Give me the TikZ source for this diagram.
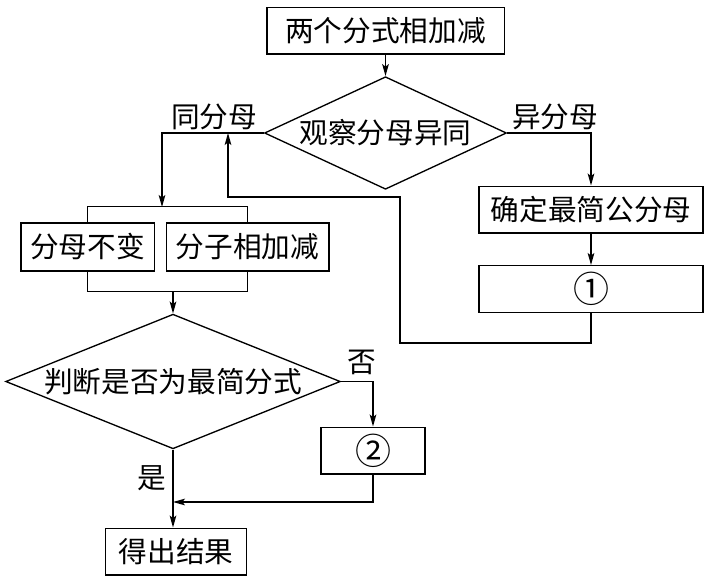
\documentclass[tikz,border=0pt]{standalone}
\usepackage{fontspec}
\newfontfamily\cjk{Noto Sans CJK SC}
\usetikzlibrary{shapes.geometric, arrows.meta}

\begin{document}
\begin{tikzpicture} [x = 0.75pt, y = -0.75pt, line width = 1pt,
    font = \cjk\fontsize{21.5}{25}\selectfont,
    >={Stealth[length = 9pt, width = 5pt, inset = 2pt]},
    box/.style = {draw, rectangle, inner sep = 0pt, minimum height = 35pt},
    dia/.style = {draw, diamond, inner sep = 0pt},
    lab/.style = {inner sep = 0pt},
    num/.style = {font = \cjk\fontsize{27}{27}\selectfont}]
\useasboundingbox (0,0) rectangle (709,578);
\node[box, minimum width = 178pt](sum) at (385.5,30.5){两个分式相加减};
\node[dia, shape aspect = 2, minimum width = 181.5pt, minimum height = 81pt](look) at (385.5,133){观察分母异同};
\node[box, minimum width = 168pt](lcd) at (591,209.5){确定最简公分母};
\node[box, num, minimum width = 168pt](one) at (591,289){①};
\node[box, minimum width = 100pt, minimum height = 36pt](keep) at (87.5,247){分母不变};
\node[box, minimum width = 122pt, minimum height = 36pt](add) at (247.5,247){分子相加减};
\node[dia, shape aspect = 2.45, minimum width = 251pt, minimum height = 101pt](check) at (173,381.5){判断是否为最简分式};
\node[box, num, minimum width = 78pt](two) at (373,450.5){②};
\node[box, minimum width = 106pt](res) at (176,551.5){得出结果};
\node[lab](same) at (214,117){同分母};
\node[lab](diff) at (555,117){异分母};
\node[lab](no) at (362,362){否};
\node[lab](yes) at (152,478){是};
\coordinate (split) at (162,207);
\coordinate (back) at (228,133);
\coordinate (merge) at (173,291);
\coordinate (join) at (173,502);
\draw[->] (sum) -- (look);
\draw[->] (look.west) -| (split);
\draw (keep.north) -- ++(0,-16) -| (add.north);
\draw (keep.south) -- ++(0,20) -| (add.south);
\draw[->] (merge) -- (check);
\draw[->] (look.east) -| (lcd);
\draw[->] (lcd) -- (one);
\draw[->] (one.south) |- (400,343) |- (228,197) -- (back);
\draw[->] (check.east) -| (two);
\draw[->] (two.south) |- (join);
\draw[->] (check.south) -- (check.south |- res.north);
\end{tikzpicture}
\end{document}
